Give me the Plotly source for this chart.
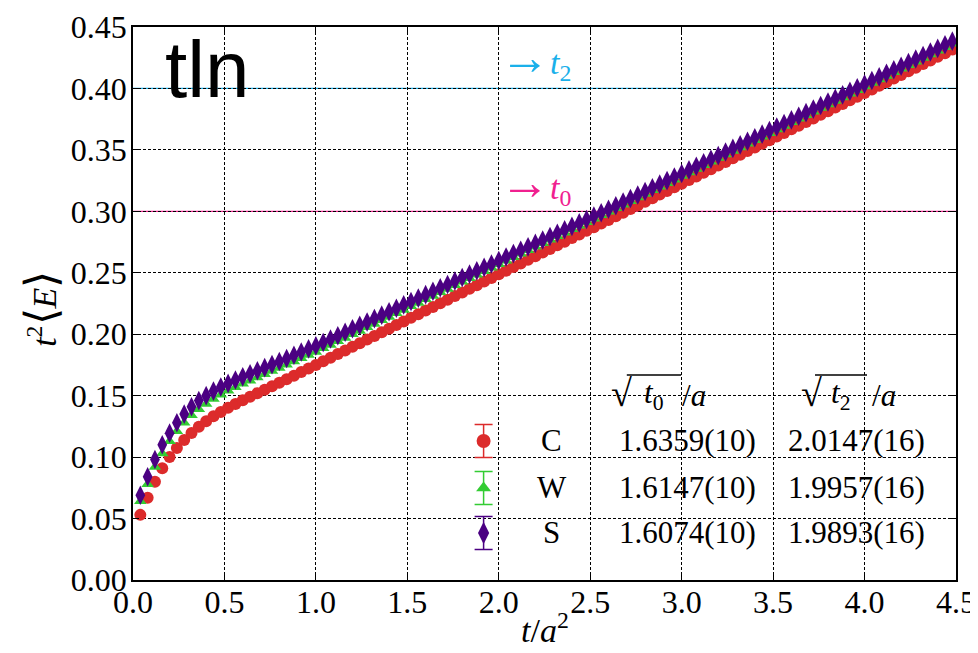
import plotly.graph_objects as go

# ---------------- data ----------------
t_over_a2 = [
    0.04, 0.08, 0.12, 0.16, 0.20, 0.24, 0.28, 0.32, 0.36, 0.40,
    0.44, 0.48, 0.52, 0.56, 0.60, 0.64, 0.68, 0.72, 0.76, 0.80,
    0.84, 0.88, 0.92, 0.96, 1.00, 1.04, 1.08, 1.12, 1.16, 1.20,
    1.24, 1.28, 1.32, 1.36, 1.40, 1.44, 1.48, 1.52, 1.56, 1.60,
    1.64, 1.68, 1.72, 1.76, 1.80, 1.84, 1.88, 1.92, 1.96, 2.00,
    2.04, 2.08, 2.12, 2.16, 2.20, 2.24, 2.28, 2.32, 2.36, 2.40,
    2.44, 2.48, 2.52, 2.56, 2.60, 2.64, 2.68, 2.72, 2.76, 2.80,
    2.84, 2.88, 2.92, 2.96, 3.00, 3.04, 3.08, 3.12, 3.16, 3.20,
    3.24, 3.28, 3.32, 3.36, 3.40, 3.44, 3.48, 3.52, 3.56, 3.60,
    3.64, 3.68, 3.72, 3.76, 3.80, 3.84, 3.88, 3.92, 3.96, 4.00,
    4.04, 4.08, 4.12, 4.16, 4.20, 4.24, 4.28, 4.32, 4.36, 4.40,
    4.44, 4.48,
]

E_C = [
    0.053, 0.067, 0.080, 0.091, 0.100, 0.1075, 0.114, 0.1197, 0.1247, 0.1292,
    0.1332, 0.1368, 0.1401, 0.1432, 0.1462, 0.1491, 0.1520, 0.1548, 0.1577, 0.1605,
    0.1634, 0.1663, 0.1692, 0.1721, 0.1750, 0.1780, 0.1809, 0.1839, 0.1868, 0.1898,
    0.1927, 0.1957, 0.1986, 0.2016, 0.2045, 0.2075, 0.2104, 0.2134, 0.2163, 0.2193,
    0.2222, 0.2252, 0.2281, 0.2311, 0.2340, 0.2370, 0.2399, 0.2429, 0.2458, 0.2488,
    0.2517, 0.2547, 0.2576, 0.2606, 0.2635, 0.2665, 0.2694, 0.2724, 0.2753, 0.2783,
    0.2812, 0.2842, 0.2871, 0.2901, 0.2930, 0.2960, 0.2989, 0.3019, 0.3048, 0.3078,
    0.3107, 0.3137, 0.3166, 0.3196, 0.3225, 0.3255, 0.3284, 0.3314, 0.3343, 0.3373,
    0.3402, 0.3432, 0.3461, 0.3491, 0.3520, 0.3550, 0.3579, 0.3609, 0.3638, 0.3668,
    0.3697, 0.3727, 0.3756, 0.3786, 0.3815, 0.3845, 0.3874, 0.3904, 0.3933, 0.3963,
    0.3992, 0.4022, 0.4051, 0.4081, 0.4110, 0.4140, 0.4169, 0.4199, 0.4228, 0.4258,
    0.4287, 0.4317,
]

E_W = [
    0.064, 0.078, 0.092, 0.103, 0.113, 0.121, 0.128, 0.134, 0.139, 0.1433,
    0.1472, 0.1507, 0.1539, 0.1568, 0.1596, 0.1622, 0.1648, 0.1674, 0.1700, 0.1726,
    0.1752, 0.1778, 0.1804, 0.1830, 0.1856, 0.1885, 0.1913, 0.1942, 0.1970, 0.1999,
    0.2027, 0.2056, 0.2084, 0.2113, 0.2141, 0.2170, 0.2198, 0.2227, 0.2255, 0.2284,
    0.2312, 0.2341, 0.2369, 0.2398, 0.2426, 0.2455, 0.2483, 0.2512, 0.2540, 0.2569,
    0.2597, 0.2626, 0.2654, 0.2683, 0.2711, 0.2740, 0.2768, 0.2797, 0.2825, 0.2854,
    0.2882, 0.2911, 0.2939, 0.2968, 0.2996, 0.3025, 0.3054, 0.3083, 0.3112, 0.3142,
    0.3171, 0.3200, 0.3229, 0.3258, 0.3287, 0.3316, 0.3345, 0.3374, 0.3403, 0.3433,
    0.3462, 0.3491, 0.3520, 0.3549, 0.3578, 0.3607, 0.3636, 0.3665, 0.3694, 0.3724,
    0.3753, 0.3782, 0.3811, 0.3840, 0.3869, 0.3898, 0.3927, 0.3956, 0.3985, 0.4015,
    0.4044, 0.4073, 0.4102, 0.4131, 0.4160, 0.4189, 0.4218, 0.4247, 0.4276, 0.4306,
    0.4335, 0.4364,
]

E_S = [
    0.069, 0.084, 0.098, 0.110, 0.1195, 0.128, 0.135, 0.141, 0.146, 0.150,
    0.1537, 0.1570, 0.1600, 0.1627, 0.1653, 0.1678, 0.1703, 0.1728, 0.1753, 0.1778,
    0.1803, 0.1829, 0.1855, 0.1881, 0.1905, 0.1933, 0.1961, 0.1988, 0.2016, 0.2044,
    0.2072, 0.2100, 0.2127, 0.2155, 0.2183, 0.2211, 0.2239, 0.2266, 0.2294, 0.2322,
    0.2350, 0.2378, 0.2405, 0.2433, 0.2461, 0.2489, 0.2517, 0.2544, 0.2572, 0.2600,
    0.2628, 0.2656, 0.2683, 0.2711, 0.2739, 0.2767, 0.2795, 0.2822, 0.2850, 0.2878,
    0.2906, 0.2934, 0.2961, 0.2989, 0.3017, 0.3046, 0.3075, 0.3104, 0.3133, 0.3162,
    0.3192, 0.3221, 0.3250, 0.3279, 0.3308, 0.3337, 0.3366, 0.3395, 0.3424, 0.3453,
    0.3483, 0.3512, 0.3541, 0.3570, 0.3599, 0.3628, 0.3657, 0.3686, 0.3715, 0.3744,
    0.3774, 0.3803, 0.3832, 0.3861, 0.3890, 0.3919, 0.3948, 0.3977, 0.4006, 0.4035,
    0.4065, 0.4094, 0.4123, 0.4152, 0.4181, 0.4210, 0.4239, 0.4268, 0.4297, 0.4326,
    0.4356, 0.4385,
]

series_labels = ["C", "W", "S"]
sqrt_t0_over_a = ["1.6359(10)", "1.6147(10)", "1.6074(10)"]
sqrt_t2_over_a = ["2.0147(16)", "1.9957(16)", "1.9893(16)"]
ref_t0 = 0.30
ref_t2 = 0.40
x_ticks = [0.0, 0.5, 1.0, 1.5, 2.0, 2.5, 3.0, 3.5, 4.0, 4.5]
y_ticks = [0.00, 0.05, 0.10, 0.15, 0.20, 0.25, 0.30, 0.35, 0.40, 0.45]

# ---------------- styles ----------------
RED = "#dc2b2b"
GREEN = "#33cc33"
PURPLE = "#4b0082"
CYAN = "#1ab0ea"
PINK = "#f0208f"
SERIF = "Liberation Serif, Times New Roman, serif"
FS = 31

fig = go.Figure()

styles = [
    (E_C, RED, "circle", 12),
    (E_W, GREEN, "triangle-up", 11),
    (E_S, PURPLE, "diamond-tall", 14),
]
for yvals, col, sym, sz in styles:
    fig.add_trace(go.Scatter(
        x=t_over_a2, y=yvals, mode="markers",
        marker=dict(color=col, symbol=sym, size=sz, line=dict(width=0)),
        showlegend=False, hoverinfo="skip"))

# legend markers (in an overlay axis spanning the plot area, 0..1)
leg_x = 0.426
leg_rows = [0.2514, 0.1664, 0.085]
for (yvals, col, sym, sz), ry in zip(styles, leg_rows):
    fig.add_trace(go.Scatter(
        x=[leg_x], y=[ry], mode="markers",
        marker=dict(color=col, symbol=sym, size=sz + 2, line=dict(width=0)),
        error_y=dict(type="data", array=[0.030], color=col, thickness=1.5, width=9),
        xaxis="x2", yaxis="y2", showlegend=False, hoverinfo="skip"))

# reference lines
fig.add_shape(type="line", xref="paper", x0=0, x1=1, yref="y", y0=ref_t2, y1=ref_t2,
              line=dict(color=CYAN, width=1.2), layer="below")
fig.add_shape(type="line", xref="paper", x0=0, x1=1, yref="y", y0=ref_t0, y1=ref_t0,
              line=dict(color=PINK, width=1.2), layer="below")
# overlines of the square roots in the legend header
for x0, x1 in [(0.600, 0.666), (0.8287, 0.8919)]:
    fig.add_shape(type="line", xref="paper", yref="paper", x0=x0, x1=x1, y0=0.3707, y1=0.3707,
                  line=dict(color="black", width=1.3))


def txt(text, x, y, size=FS, color="black", family=SERIF, **kw):
    d = dict(text=text, xref="paper", yref="paper", x=x, y=y, showarrow=False,
             xanchor="center", yanchor="middle",
             font=dict(family=family, size=size, color=color))
    d.update(kw)
    return d


ann = []
ann.append(txt("tln", 0.036, 0.924, size=80, family="Liberation Sans", xanchor="left"))
ann.append(txt("<span style='font-size:50px'>→</span><i>t</i><sub>2</sub>", 0.443, 0.944,
               size=34, color=CYAN, xanchor="left"))
ann.append(txt("<span style='font-size:50px'>→</span><i>t</i><sub>0</sub>", 0.443, 0.719,
               size=34, color=PINK, xanchor="left"))
# axis titles
ann.append(txt("<i>t</i><sup>2</sup><span style='font-size:44px'>⟨</span><i>E</i>"
               "<span style='font-size:44px'>⟩</span>",
               -0.112, 0.49, size=34, textangle=-90))
ann.append(txt("<i>t</i>/<i>a</i><sup>2</sup>", 0.5006, -0.128, size=34, yanchor="bottom"))
# legend header
for rx, tx, ax, sub in [(0.594, 0.633, 0.6817, "0"), (0.825, 0.860, 0.9125, "2")]:
    ann.append(txt("√", rx, 0.338, size=38))
    ann.append(txt(f"<i>t</i><sub>{sub}</sub>", tx, 0.3345))
    ann.append(txt("/<i>a</i>", ax, 0.3345))
for lab, v0, v2, ry in zip(series_labels, sqrt_t0_over_a, sqrt_t2_over_a, leg_rows):
    ann.append(txt(lab, 0.509, ry))
    ann.append(txt(v0, 0.674, ry))
    ann.append(txt(v2, 0.8785, ry))

axis_common = dict(
    showline=True, linecolor="black", linewidth=1.5, mirror="ticks",
    ticks="inside", ticklen=6, tickwidth=1, tickcolor="black",
    showgrid=True, gridcolor="black", gridwidth=1, griddash="3px,2px",
    zeroline=False, automargin=False,
    tickfont=dict(family=SERIF, size=32, color="black"),
)

# the page body adds an 8 px offset; size the figure so the plot area lands as in the reference
fig.update_layout(
    template="none",
    width=970, height=645,
    margin=dict(l=125, r=22, t=19, b=73, autoexpand=False),
    font=dict(family=SERIF),
    paper_bgcolor="white", plot_bgcolor="white",
    xaxis=dict(range=[0, 4.5], tickvals=x_ticks, ticklabelstandoff=-7,
               ticktext=[f"{v:.1f}" for v in x_ticks], **axis_common),
    yaxis=dict(range=[0, 0.45], tickvals=y_ticks, ticklabelstandoff=-2,
               ticktext=[f"{v:.2f}" for v in y_ticks], **axis_common),
    xaxis2=dict(overlaying="x", range=[0, 1], visible=False),
    yaxis2=dict(overlaying="y", range=[0, 1], visible=False),
    annotations=ann,
    showlegend=False,
)

fig.write_html("out.html")
